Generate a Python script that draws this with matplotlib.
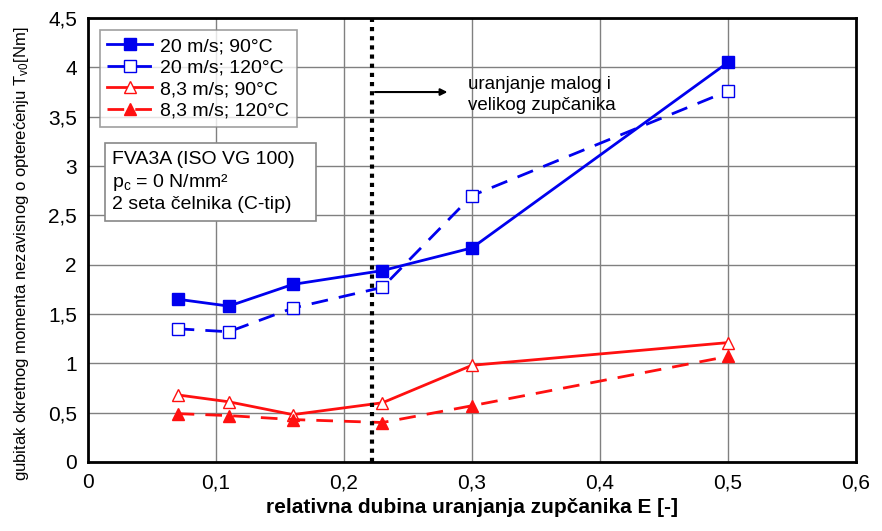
import numpy as np
import matplotlib.pyplot as plt
from matplotlib.ticker import FuncFormatter

plt.rcParams['font.family'] = ['Liberation Sans', 'DejaVu Sans']

# podaci ocitani s grafa
E = [0.07, 0.11, 0.16, 0.23, 0.30, 0.50]
v20_90 = [1.65, 1.58, 1.80, 1.94, 2.17, 4.05]
v20_120 = [1.35, 1.32, 1.56, 1.77, 2.70, 3.76]
v83_90 = [0.68, 0.61, 0.48, 0.60, 0.98, 1.21]
v83_120 = [0.49, 0.47, 0.43, 0.40, 0.57, 1.07]
granica = 0.222

fig = plt.figure(figsize=(8.82, 5.31), dpi=100)
ax = fig.add_axes([0.0998, 0.130, 0.8707, 0.836])

ax.plot(E, v20_90, '-', color='#0000ee', lw=2, marker='s', ms=8,
        mfc='#0000ee', label='20 m/s; 90°C')
ax.plot(E, v20_120, '--', color='#0000ee', lw=2, dashes=(6, 4), marker='s', ms=8,
        mfc='white', label='20 m/s; 120°C')
ax.plot(E, v83_90, '-', color='#ff1010', lw=2, marker='^', ms=8,
        mfc='white', label='8,3 m/s; 90°C')
ax.plot(E, v83_120, '--', color='#ff1010', lw=2, dashes=(6, 4), marker='^', ms=8,
        mfc='#ff1010', label='8,3 m/s; 120°C')

ax.axvline(granica, color='black', lw=3, ls=(0, (1, 1.2)), zorder=5)
ax.annotate('', xy=(0.283, 3.75), xytext=(granica, 3.75),
            arrowprops=dict(arrowstyle='-|>', color='black', lw=1.5))
ax.text(0.297, 3.72, 'uranjanje malog i\nvelikog zupčanika', fontsize=13.5,
        va='center', ha='left', linespacing=1.25)

ax.text(0.019, 2.84, 'FVA3A (ISO VG 100)\n$\\mathregular{p_c}$ = 0 N/mm²\n2 seta čelnika (C-tip)   ',
        fontsize=14, va='center', ha='left', linespacing=1.25,
        bbox=dict(boxstyle='square,pad=0.4', fc='white', ec='#888888', lw=1.2))

ax.set_xlim(0, 0.6)
ax.set_ylim(0, 4.5)
ax.set_xticks(np.arange(0, 0.61, 0.1))
ax.set_yticks(np.arange(0, 4.51, 0.5))
fmt = FuncFormatter(lambda v, p: ('%g' % round(v, 2)).replace('.', ','))
ax.xaxis.set_major_formatter(fmt)
ax.yaxis.set_major_formatter(fmt)
ax.tick_params(labelsize=15, length=0, pad=8)
ax.grid(True, color='#808080', lw=1)
ax.set_axisbelow(True)
for s in ax.spines.values():
    s.set_linewidth(2)

ax.set_xlabel('relativna dubina uranjanja zupčanika E [-]', fontsize=15, fontweight='bold',
              labelpad=4)
ax.set_ylabel('gubitak okretnog momenta nezavisnog o opterećenju $\\mathregular{T_{v0}}$[Nm]',
              fontsize=12)
ax.yaxis.set_label_coords(-0.074, 0.47)

leg = ax.legend(loc='upper left', fontsize=14, frameon=True, fancybox=False,
                edgecolor='#888888', handlelength=2.3, borderaxespad=0.6,
                labelspacing=0.2, handletextpad=0.4)
leg.get_frame().set_linewidth(1.2)

fig.savefig('out.png', dpi=100)
